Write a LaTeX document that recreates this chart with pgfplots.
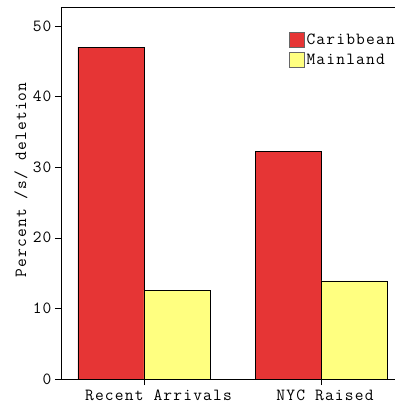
\documentclass[border=0pt]{standalone}
\usepackage{fontspec}
\setmonofont{Latin Modern Mono}[LetterSpace=7]
\usepackage{pgfplots}
\pgfplotsset{compat=1.18}

\definecolor{carib}{HTML}{E63535}
\definecolor{mainl}{HTML}{FFFF80}

\newcommand{\chartfont}{\ttfamily\fontsize{17bp}{19bp}\selectfont}

\pgfplotstableread{
cat carib mainl
0 47.0 12.6
1 32.2 13.9
}\deletion

\begin{document}
\begin{tikzpicture}[font=\chartfont]
\begin{axis}[
  at={(61bp,29bp)}, anchor=south west,
  scale only axis,
  width=348.5bp, height=372bp,
  xmin=-0.4689, xmax=1.5,
  ymin=0, ymax=52.69,
  ybar=0pt, bar width=66bp,
  xtick=data,
  % category names sit slightly right of their ticks
  xticklabels={\hspace*{29bp}Recent Arrivals, \hspace*{8bp}NYC Raised},
  ytick={0,10,20,30,40,50},
  tick style={black, thin},
  major tick length=6bp,
  xtick pos=bottom, ytick pos=left,
  tick align=outside,
  /pgf/number format/assume math mode=true,
  ticklabel style={font=\chartfont},
  axis line style={black, thin},
  axis x line*=bottom,
  axis y line*=left,
  ylabel={Percent /s/ deletion},
  ylabel style={font=\chartfont, at={(rel axis cs:0,0.535)}, anchor=south, yshift=30bp},
  xticklabel style={yshift=-1bp},
  legend style={draw=none, fill=none, at={(axis description cs:0.654,0.933)}, anchor=north west,
    font=\chartfont, inner sep=0pt, row sep=4bp,
    /tikz/every even column/.append style={column sep=2bp}},
  legend cell align=left,
  legend image code/.code={\draw[#1, draw=black!60] (0bp,-7.5bp) rectangle (15bp,7.5bp);},
  clip=false,
]
\addplot[fill=carib, draw=black] table[x=cat, y=carib] {\deletion};
\addplot[fill=mainl, draw=black] table[x=cat, y=mainl] {\deletion};
\legend{Caribbean, Mainland}
\draw[black, thin] (rel axis cs:0,1) -- (rel axis cs:1,1);
\end{axis}
\pgfresetboundingbox
\useasboundingbox (0,0) rectangle (395bp,408bp);
\end{tikzpicture}
\end{document}
